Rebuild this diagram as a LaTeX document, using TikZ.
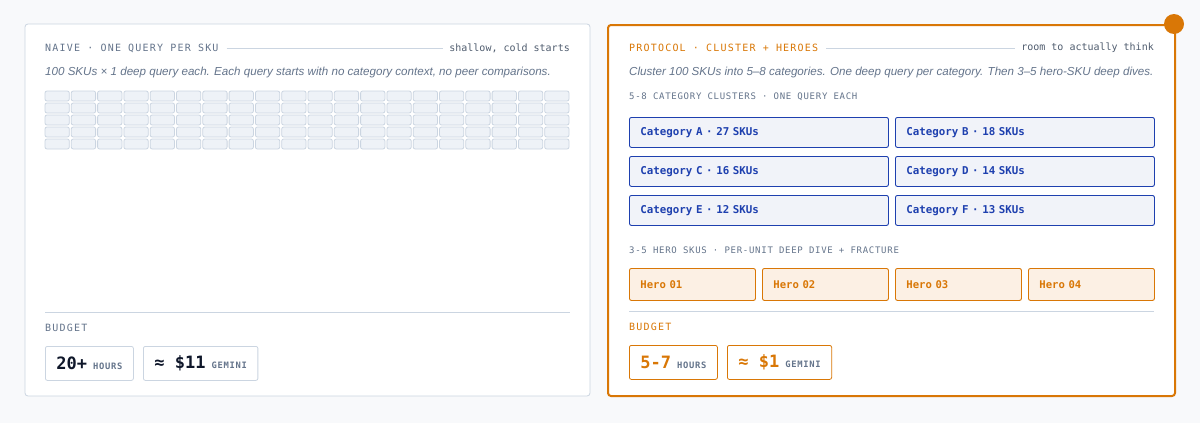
\documentclass[tikz,border=0pt]{standalone}
\usepackage{fontspec}
\setmainfont{Liberation Sans}
\setmonofont{DejaVu Sans Mono}
\newfontfamily\spacedmono[LetterSpace=12]{DejaVu Sans Mono}
\newfontfamily\tightmono[LetterSpace=8]{DejaVu Sans Mono}

\definecolor{pagebg}{HTML}{F8F9FB}
\definecolor{rulegray}{HTML}{CBD5E1}
\definecolor{mutedtext}{HTML}{64748B}
\definecolor{darktext}{HTML}{0F172A}
\definecolor{amber}{HTML}{D97706}
\definecolor{amberfill}{HTML}{FCF0E4}
\definecolor{catblue}{HTML}{1E40AF}
\definecolor{catfill}{HTML}{F1F3F9}
\definecolor{cellfill}{HTML}{EEF2F7}

\newcommand\headfont{\fontsize{10}{12}\spacedmono}
\newcommand\subfont{\fontsize{9}{11}\tightmono}
\newcommand\unitfont{\fontsize{8.8}{10}\tightmono}
\newcommand\notefont{\fontsize{10}{12}\ttfamily}
\newcommand\leadfont{\fontsize{11.6}{14}\itshape}

\tikzset{
  txt/.style={anchor=west,inner sep=0pt},
  rule/.style={draw=rulegray,line width=0.8pt},
  cell/.style={draw=rulegray,fill=cellfill,line width=0.8pt,rounded corners=2pt},
  catbox/.style={draw=catblue,fill=catfill,line width=0.9pt,rounded corners=2pt,
    anchor=north west,minimum height=30pt,text width=237pt,inner xsep=11pt,
    align=left,text=catblue,font=\fontsize{10.8}{12}\ttfamily\bfseries},
  herobox/.style={draw=amber,fill=amberfill,line width=0.9pt,rounded corners=2pt,
    anchor=north west,minimum height=32pt,text width=104pt,inner xsep=11pt,
    align=left,text=amber,font=\fontsize{10.6}{12}\ttfamily\bfseries},
  budgetbox/.style={draw=#1,line width=0.8pt,rounded corners=2pt,fill=white,
    anchor=north west,minimum height=34pt,inner xsep=11pt},
}

\begin{document}
\begin{tikzpicture}[x=1pt,y=-1pt]

\fill[pagebg] (0,0) rectangle (1200,423);
\useasboundingbox (0,0) rectangle (1200,423);

% naive panel
\draw[rule,fill=white,rounded corners=3pt] (25,24) rectangle (590,396);
\node[txt,text=mutedtext] (naivehead) at (45,48) {\headfont NAIVE · ONE QUERY PER SKU};
\node[txt,anchor=east,text=mutedtext!80!black] (naivenote) at (570,48) {\notefont shallow, cold starts};
\draw[rule] ([xshift=8pt]naivehead.east) -- ([xshift=-6pt]naivenote.west);
\node[txt,text=mutedtext] (naivelead) at (45,73)
  {\leadfont 100 SKUs × 1 deep query each. Each query starts with no category context, no peer comparisons.};

\foreach \r in {0,...,4}
  \foreach \c in {0,...,19}
    \draw[cell] ({45+\c*26.3},{91+\r*12}) rectangle +(24.3,10);

\draw[rule] (45,312) -- (570,312);
\node[txt,text=mutedtext] (naivebudget) at (45,328) {\headfont BUDGET};
\node[budgetbox=rulegray] (naivehours) at (45,346)
  {\fontsize{17}{20}\ttfamily\bfseries\color{darktext}20+\hspace{6pt}\unitfont\color{mutedtext}HOURS};
\node[budgetbox=rulegray] (naivecost) at (143,346)
  {\fontsize{17}{20}\ttfamily\bfseries\color{darktext}≈ \$11\hspace{6pt}\unitfont\color{mutedtext}GEMINI};

% protocol panel
\draw[draw=amber,line width=2pt,fill=white,rounded corners=3pt] (608,25) rectangle (1175,396);
\fill[amber] (1174,24) circle (10);
\node[txt,text=amber] (protohead) at (629,48) {\headfont PROTOCOL · CLUSTER + HEROES};
\node[txt,anchor=east,text=mutedtext!80!black] (protonote) at (1154,48) {\notefont room to actually think};
\draw[rule] ([xshift=8pt]protohead.east) -- ([xshift=-6pt]protonote.west);
\node[txt,text=mutedtext] (protolead) at (629,73)
  {\leadfont Cluster 100 SKUs into 5–8 categories. One deep query per category. Then 3–5 hero-SKU deep dives.};

\node[txt,text=mutedtext] (cathead) at (629,97) {\subfont 5-8 CATEGORY CLUSTERS · ONE QUERY EACH};
\foreach \l/\n [count=\i from 0] in {A/27,B/18,C/16,D/14,E/12,F/13} {
  \pgfmathtruncatemacro\col{mod(\i,2)}
  \pgfmathtruncatemacro\row{int(\i/2)}
  \node[catbox] (cat\l) at ({629+\col*266},{117+\row*39}) {Category \l\ · \n\ SKUs};
}

\node[txt,text=mutedtext] (herohead) at (629,250) {\subfont 3-5 HERO SKUS · PER-UNIT DEEP DIVE + FRACTURE};
\foreach \h [count=\i from 0] in {01,02,03,04}
  \node[herobox] (hero\h) at ({629+\i*133},268) {Hero \h};

\draw[rule] (629,311) -- (1154,311);
\node[txt,text=amber] (protobudget) at (629,327) {\headfont BUDGET};
\node[budgetbox=amber] (protohours) at (629,345)
  {\fontsize{17}{20}\ttfamily\bfseries\color{amber}5-7\hspace{6pt}\unitfont\color{mutedtext}HOURS};
\node[budgetbox=amber] (protocost) at (727,345)
  {\fontsize{17}{20}\ttfamily\bfseries\color{amber}≈ \$1\hspace{6pt}\unitfont\color{mutedtext}GEMINI};

\end{tikzpicture}
\end{document}
